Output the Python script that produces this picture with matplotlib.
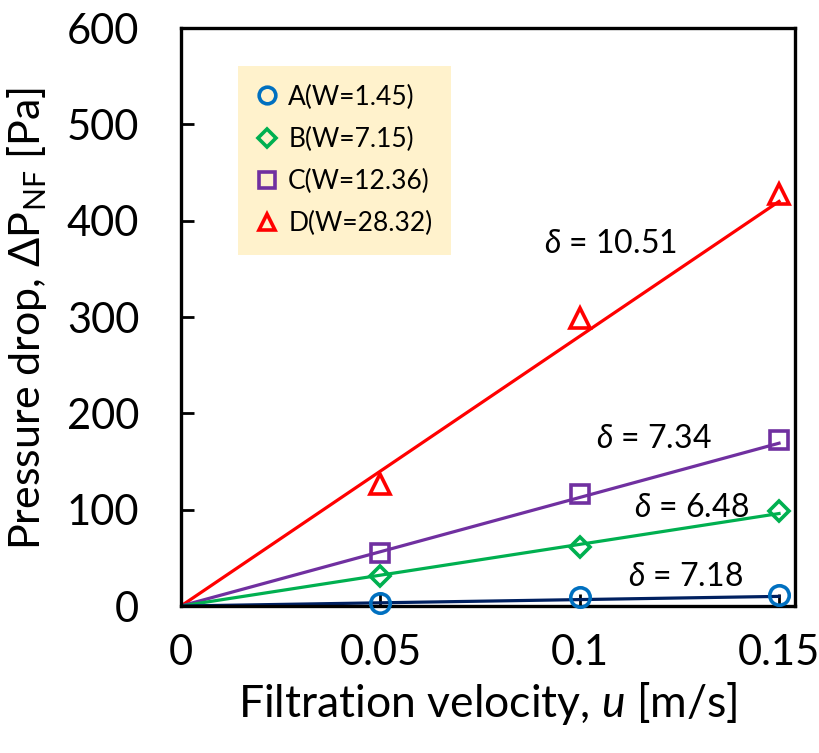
import matplotlib
matplotlib.use('Agg')
import matplotlib.pyplot as plt
from matplotlib.lines import Line2D

plt.rcParams['font.family'] = ['Lato', 'DejaVu Sans']
plt.rcParams['mathtext.fontset'] = 'custom'
plt.rcParams['mathtext.rm'] = 'Lato'
plt.rcParams['mathtext.it'] = 'Lato:italic'
plt.rcParams['mathtext.fallback'] = 'stixsans'

# data
u = [0.05, 0.1, 0.15]
dp_A = [3, 9, 11]
dp_B = [31, 61, 99]
dp_C = [55, 116, 172]
dp_D = [127, 299, 428]

# fitted lines through the origin, value at u = 0.15
fit_u = [0, 0.15]
fit_A = [0, 10]
fit_B = [0, 96]
fit_C = [0, 169]
fit_D = [0, 420]

names = ['A(W=1.45)', 'B(W=7.15)', 'C(W=12.36)', 'D(W=28.32)']
deltas = ['10.51', '7.34', '6.48', '7.18']

fig = plt.figure(figsize=(8.2, 7.53), dpi=100)
ax = fig.add_axes([0.2207, 0.1952, 0.9695 - 0.2207, 0.9628 - 0.1952])

# fitted lines
ax.plot(fit_u, fit_D, color='#FF0000', lw=2.3, zorder=2)
ax.plot(fit_u, fit_C, color='#7030A0', lw=2.3, zorder=2)
ax.plot(fit_u, fit_B, color='#00B050', lw=2.3, zorder=2)
ax.plot(fit_u, fit_A, color='#002060', lw=2.3, zorder=2)

mk = dict(ls='none', mfc='none', mew=2.6, zorder=3, clip_on=False)
ax.plot(u, dp_A, marker='o', ms=14, mec='#0070C0', **mk)
ax.plot(u, dp_B, marker='D', ms=10, mec='#00B050', **mk)
ax.plot(u, dp_C, marker='s', ms=13, mec='#7030A0', **mk)
ax.plot(u, dp_D, marker='^', ms=14, mec='#FF0000', **mk)

# delta labels
ax.text(0.1078, 376, r'$\delta$ = ' + deltas[0], fontsize=23, ha='center', va='center')
ax.text(0.1185, 173, r'$\delta$ = ' + deltas[1], fontsize=23, ha='center', va='center')
ax.text(0.128, 102, r'$\delta$ = ' + deltas[2], fontsize=23, ha='center', va='center')
ax.text(0.1265, 30, r'$\delta$ = ' + deltas[3], fontsize=23, ha='center', va='center')

ax.set_xlim(0, 0.154)
ax.set_ylim(0, 600)
ax.set_xticks([0, 0.05, 0.1, 0.15])
ax.set_xticklabels(['0', '0.05', '0.1', '0.15'])
ax.set_yticks(range(0, 601, 100))
ax.tick_params(direction='in', length=9, width=2, labelsize=30)
ax.tick_params(axis='x', pad=20)
ax.tick_params(axis='y', pad=30)
for s in ax.spines.values():
    s.set_linewidth(2.4)

ax.set_xlabel(r'Filtration velocity, $\it{u}$ [m/s]', fontsize=32)
ax.set_ylabel(r'Pressure drop, $\Delta$P$_{\mathrm{NF}}$ [Pa]', fontsize=31)
ax.xaxis.set_label_coords(0.5, -0.128)
ax.yaxis.set_label_coords(-0.215, 0.497)

handles = [
    Line2D([], [], ls='none', marker='o', ms=12, mfc='none', mew=2.6, mec='#0070C0'),
    Line2D([], [], ls='none', marker='D', ms=9, mfc='none', mew=2.6, mec='#00B050'),
    Line2D([], [], ls='none', marker='s', ms=11, mfc='none', mew=2.6, mec='#7030A0'),
    Line2D([], [], ls='none', marker='^', ms=12, mfc='none', mew=2.6, mec='#FF0000'),
]
leg = ax.legend(handles, names, loc='upper left', bbox_to_anchor=(0.093, 0.934),
                fontsize=19, frameon=True, fancybox=False, handlelength=0.8,
                handletextpad=0.4, labelspacing=0.65, borderpad=0.7, borderaxespad=0)
leg.get_frame().set_facecolor('#FFF2CC')
leg.get_frame().set_edgecolor('none')
leg.get_frame().set_alpha(1)

fig.savefig('out.png', dpi=100)
